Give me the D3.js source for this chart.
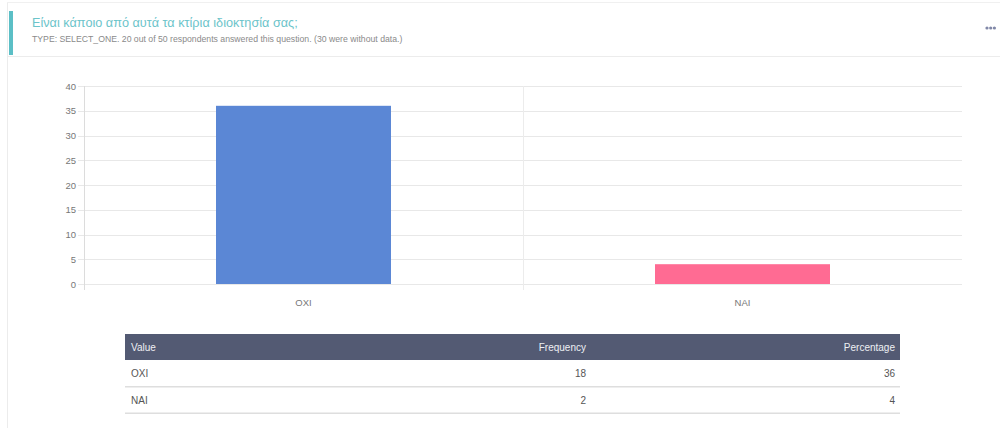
<!DOCTYPE html>
<html><head><meta charset="utf-8">
<script src="https://cdn.jsdelivr.net/npm/d3@7"></script>
<style>
body{margin:0;background:#fff;font-family:"Liberation Sans",Arial,sans-serif;}
svg{display:block}
</style></head>
<body>
<svg id="c" width="1000" height="428"></svg>
<script>
const title = "Είναι κάποιο από αυτά τα κτίρια ιδιοκτησία σας;";
const subtitle = "TYPE: SELECT_ONE. 20 out of 50 respondents answered this question. (30 were without data.)";
const categories = ["OXI", "NAI"];
const percentages = [36, 4];
const frequencies = [18, 2];
const yTicks = [0, 5, 10, 15, 20, 25, 30, 35, 40];
const barColors = ["#5b87d5", "#ff6b93"];
const tableHeaders = ["Value", "Frequency", "Percentage"];

const svg = d3.select("#c");
const font = "'Liberation Sans', Arial, sans-serif";

// card frame
svg.append("line").attr("x1",7.5).attr("x2",7.5).attr("y1",3).attr("y2",428).attr("stroke","#ececec");
svg.append("line").attr("x1",7).attr("x2",1000).attr("y1",2.5).attr("y2",2.5).attr("stroke","#f0f0f0");
svg.append("line").attr("x1",7).attr("x2",1000).attr("y1",56.5).attr("y2",56.5).attr("stroke","#ececec");
svg.append("rect").attr("x",9).attr("y",11).attr("width",4).attr("height",44).attr("fill","#5bbfc6");

svg.append("text").attr("x",32).attr("y",27).attr("font-family",font).attr("font-size",12.7)
  .attr("fill","#6cc4ca").text(title);
svg.append("text").attr("x",32).attr("y",42).attr("font-family",font).attr("font-size",8.7)
  .attr("fill","#8a8a8a").text(subtitle);

// dots menu
svg.selectAll("circle.dot").data([0,1,2]).enter().append("circle")
  .attr("cx",(d)=>987+d*3.7).attr("cy",28).attr("r",1.6).attr("fill","#8188a8");

// chart
const x = d3.scaleBand().domain(categories).range([84, 962]).paddingInner(0).paddingOuter(0);
const y = d3.scaleLinear().domain([0, 40]).range([284, 86]);

const g = svg.append("g");
// horizontal grid
g.selectAll("line.hg").data(yTicks).enter().append("line")
  .attr("x1",78).attr("x2",962).attr("y1",d=>Math.round(y(d))+0.5).attr("y2",d=>Math.round(y(d))+0.5)
  .attr("stroke","#e8e8e8");
// vertical grid lines (category borders)
const vx = [x.range()[0], x(categories[1])];
g.selectAll("line.vg").data(vx).enter().append("line")
  .attr("x1",d=>Math.round(d)+0.5).attr("x2",d=>Math.round(d)+0.5).attr("y1",86).attr("y2",290)
  .attr("stroke",(d,i)=>i===0?"#dcdcdc":"#ececec");

const yAxis = d3.axisLeft(y).tickValues(yTicks).tickSize(0).tickPadding(8);
const ya = g.append("g").attr("transform","translate(84,0)").call(yAxis);
ya.select(".domain").remove();
ya.selectAll("text").attr("font-family",font).attr("font-size",9.5).attr("fill","#777");

// bars
const bw = 175;
g.selectAll("rect.bar").data(categories).enter().append("rect")
  .attr("x",d=>x(d)+x.bandwidth()/2-bw/2).attr("width",bw)
  .attr("y",(d,i)=>y(percentages[i])).attr("height",(d,i)=>y(0)-y(percentages[i]))
  .attr("fill",(d,i)=>barColors[i]);

const xAxis = d3.axisBottom(x).tickSize(0).tickPadding(10);
const xa = g.append("g").attr("transform","translate(0,289)").call(xAxis);
xa.select(".domain").remove();
xa.selectAll("text").attr("font-family",font).attr("font-size",9.5).attr("fill","#777");

// table
const tx0 = 125, tx1 = 900;
svg.append("rect").attr("x",tx0).attr("y",334).attr("width",tx1-tx0).attr("height",26).attr("fill","#535a73");
const colX = [131, 586, 895];
const colAnchor = ["start","end","end"];
svg.selectAll("text.th").data(tableHeaders).enter().append("text")
  .attr("x",(d,i)=>colX[i]).attr("y",350.5).attr("text-anchor",(d,i)=>colAnchor[i])
  .attr("font-family",font).attr("font-size",10).attr("fill","#eef0f4").text(d=>d);
categories.forEach((c,i)=>{
  const ry = 360 + i*26.5;
  const vals = [c, frequencies[i], percentages[i]];
  svg.selectAll(null).data(vals).enter().append("text")
    .attr("x",(d,j)=>colX[j]).attr("y",ry+17).attr("text-anchor",(d,j)=>colAnchor[j])
    .attr("font-family",font).attr("font-size",10).attr("fill","#555").text(d=>d);
  svg.append("rect").attr("x",tx0).attr("y",ry+26).attr("width",tx1-tx0).attr("height",1.5).attr("fill","#dedede");
});
</script>
</body></html>
